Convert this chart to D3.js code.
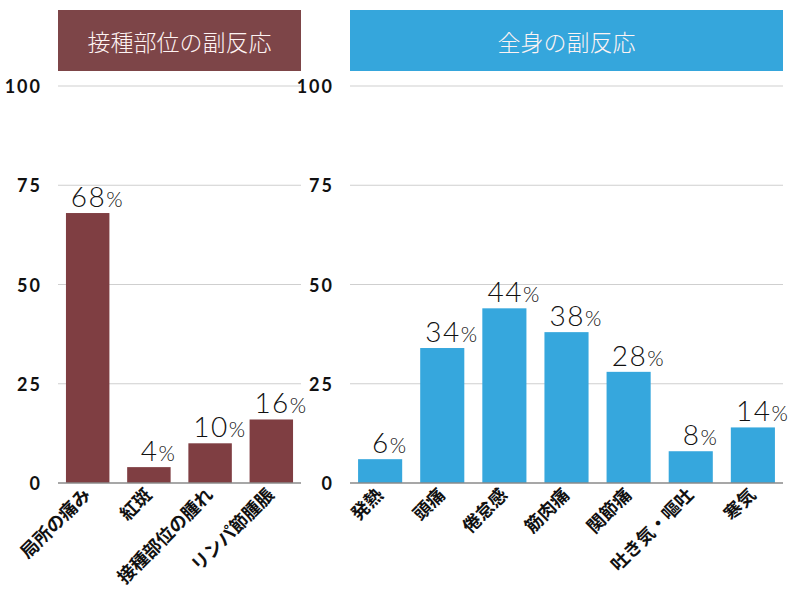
<!DOCTYPE html>
<html>
<head>
<meta charset="utf-8">
<script src="https://cdn.jsdelivr.net/npm/d3@7"></script>
<style>
  body { margin: 0; background: #fff; }
  text { font-family: "Lato", "Noto Sans CJK JP", sans-serif; }
</style>
</head>
<body>
<svg></svg>
<script>
// local reactions (left) and systemic reactions (right)
let localTitle = "接種部位の副反応";
let localCats = ["局所の痛み", "紅斑", "接種部位の腫れ", "リンパ節腫脹"];
let localVals = [68, 4, 10, 16];

let bodyTitle = "全身の副反応";
let bodyCats = ["発熱", "頭痛", "倦怠感", "筋肉痛", "関節痛", "吐き気・嘔吐", "寒気"];
let bodyVals = [6, 34, 44, 38, 28, 8, 14];

let yTicks = [0, 25, 50, 75, 100];

let svgWidth = 800;
let svgHeight = 594;

let svg = d3.select("svg")
	.attr("width", svgWidth)
	.attr("height", svgHeight);

let yScale = d3.scaleLinear()
	.domain([0, 100])
	.range([483, 86]);

function panel(title, cats, vals, x0, x1, colour, titleColour, tickX) {
	let g = svg.append("g");

	// title box
	g.append("rect")
		.attr("x", x0).attr("y", 10)
		.attr("width", x1 - x0).attr("height", 61)
		.attr("fill", titleColour);
	g.append("text")
		.attr("x", (x0 + x1) / 2).attr("y", 51)
		.attr("text-anchor", "middle")
		.attr("fill", "#fdf3f3")
		.style("font-family", "'Noto Sans CJK JP', sans-serif")
		.style("font-size", "23px")
		.style("font-weight", 300)
		.text(title);

	let xScale = d3.scaleBand()
		.domain(cats)
		.range([x0, x1])
		.paddingInner(0.29)
		.paddingOuter(0.13);

	// grid lines
	g.selectAll(".grid")
		.data(yTicks.filter(d => d > 0))
		.enter()
		.append("line")
		.attr("x1", x0).attr("x2", x1)
		.attr("y1", d => yScale(d)).attr("y2", d => yScale(d))
		.attr("stroke", "#cfcfcf")
		.attr("stroke-width", 1);

	// tick labels
	g.selectAll(".tick")
		.data(yTicks)
		.enter()
		.append("text")
		.attr("x", tickX)
		.attr("y", d => yScale(d) + 7)
		.attr("text-anchor", "end")
		.style("font-size", "18px")
		.style("font-weight", 700)
		.style("letter-spacing", "2px")
		.attr("fill", "#111")
		.text(d => d);

	// bars
	g.selectAll(".bar")
		.data(vals)
		.enter()
		.append("rect")
		.attr("x", (d, i) => xScale(cats[i]))
		.attr("y", d => yScale(d))
		.attr("width", xScale.bandwidth())
		.attr("height", d => yScale(0) - yScale(d))
		.attr("fill", colour);

	// baseline
	g.append("line")
		.attr("x1", x0).attr("x2", x1)
		.attr("y1", yScale(0)).attr("y2", yScale(0))
		.attr("stroke", "#8a8a8a")
		.attr("stroke-width", 1.5);

	// value labels
	let lab = g.selectAll(".val")
		.data(vals)
		.enter()
		.append("text")
		.attr("x", (d, i) => xScale(cats[i]) + xScale.bandwidth() / 2 + 9)
		.attr("y", d => yScale(d) - 6)
		.attr("text-anchor", "middle")
		.attr("fill", "#111")
		.style("font-weight", 300);
	lab.append("tspan").style("font-size", "28px").style("letter-spacing", "1.5px").text(d => d);
	lab.append("tspan").style("font-size", "21px").text("%");

	// category labels
	g.selectAll(".cat")
		.data(cats)
		.enter()
		.append("text")
		.attr("transform", d => "translate(" + (xScale(d) + xScale.bandwidth() / 2 + 4) + ",496) rotate(-45)")
		.attr("text-anchor", "end")
		.style("font-family", "'Noto Sans CJK JP', sans-serif")
		.style("font-size", "18px")
		.style("font-weight", 700)
		.attr("fill", "#111")
		.text(d => d);
}

panel(localTitle, localCats, localVals, 58, 301, "#7f3e42", "#7d4548", 42);
panel(bodyTitle, bodyCats, bodyVals, 350, 783, "#36a7dd", "#35a6dc", 334);
</script>
</body>
</html>
